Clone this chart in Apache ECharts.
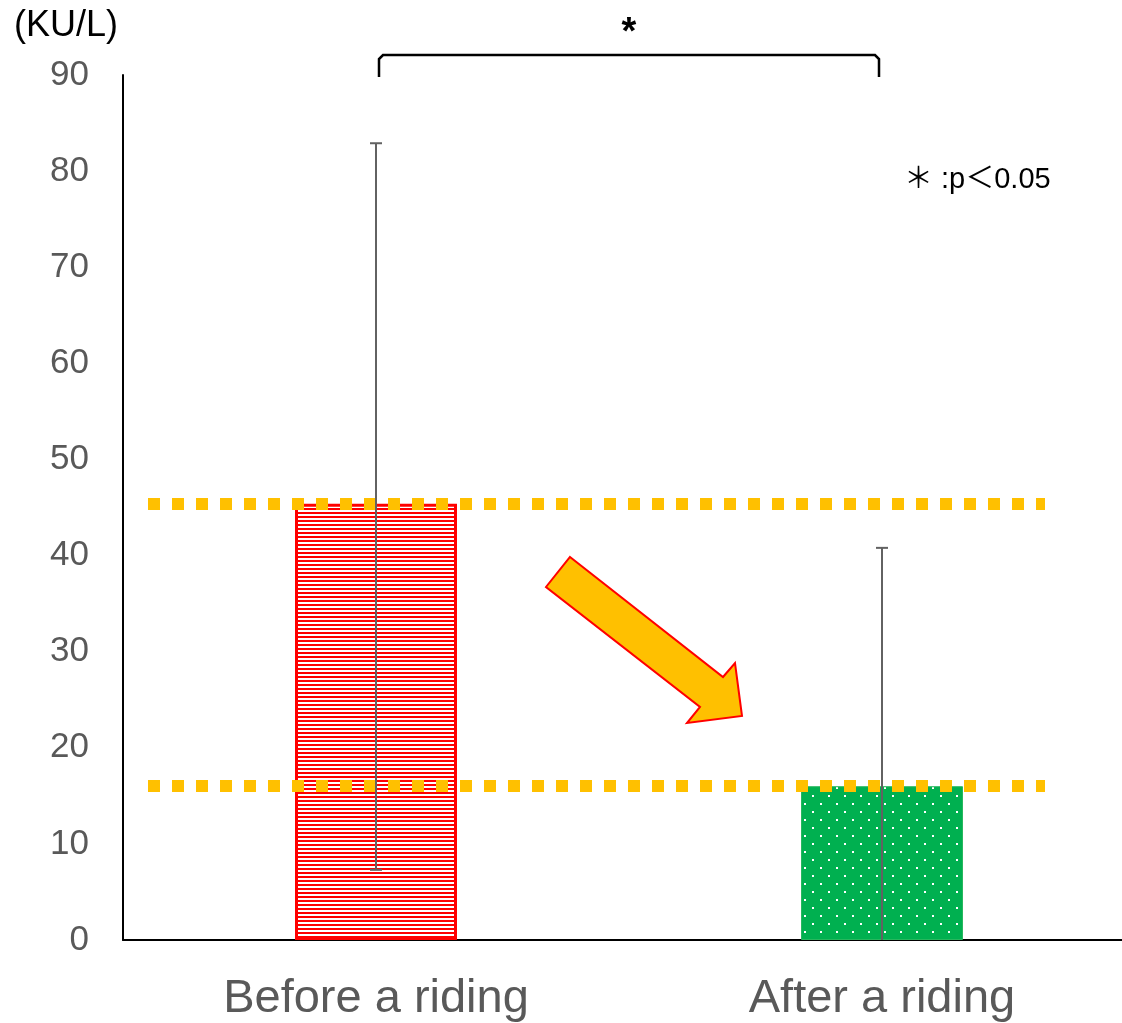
<!DOCTYPE html>
<html>
<head>
<meta charset="utf-8">
<style>
  html, body { margin: 0; padding: 0; background: #fff; overflow: hidden; }
  #chart { width: 1135px; height: 1023px; }
</style>
<script src="https://cdn.jsdelivr.net/npm/echarts@6/dist/echarts.min.js"></script>
</head>
<body>
<div id="chart"></div>
<script>
// Serum level before and after a riding session (mean with SD)
const categories = ['Before a riding', 'After a riding'];
const meanValues = [45.4, 16.0];
const errUpper = [82.9, 40.8];
const errLower = [7.3, -8.8];
const yTicks = { min: 0, max: 90, interval: 10 };
const unitLabel = '(KU/L)';
const sigMark = '*';
const sigNote = '＊ :p＜0.05';

const FONT = '"Liberation Sans", Arial, "Noto Sans CJK JP", sans-serif';

// Horizontal red hatching for the first bar
function hatchPattern() {
  const c = document.createElement('canvas');
  c.width = 8; c.height = 4;
  const g = c.getContext('2d');
  g.fillStyle = '#ffffff';
  g.fillRect(0, 0, 8, 4);
  g.fillStyle = '#ff0000';
  g.fillRect(0, 0, 8, 2);
  return c;
}
// Green fill with a staggered grid of white dots for the second bar
function dotPattern() {
  const c = document.createElement('canvas');
  c.width = 16; c.height = 16;
  const g = c.getContext('2d');
  g.fillStyle = '#00b050';
  g.fillRect(0, 0, 16, 16);
  g.fillStyle = '#ffffff';
  g.fillRect(4, 3, 2, 2);
  g.fillRect(12, 11, 2, 2);
  return c;
}

const chart = echarts.init(document.getElementById('chart'), null, { renderer: 'canvas' });

const barData = meanValues.map((v, i) => ({
  value: v,
  itemStyle: i === 0
    ? { color: { image: hatchPattern(), repeat: 'repeat' }, borderColor: '#ff0000', borderWidth: 3 }
    : { color: { image: dotPattern(), repeat: 'repeat' }, borderColor: '#27b85e', borderWidth: 1 }
}));

const dashStyle = { color: '#ffc000', width: 12, type: [12, 12], cap: 'butt' };
function refLine(v) {
  return [
    { xAxis: 0, yAxis: v, x: 148 },
    { xAxis: 1, yAxis: v, x: 1045 }
  ];
}

chart.setOption({
  animation: false,
  backgroundColor: '#ffffff',
  grid: { left: 123, top: 75, right: 0, bottom: 83, containLabel: false },
  xAxis: {
    type: 'category',
    data: categories,
    axisLine: { show: true, lineStyle: { color: '#000', width: 2 } },
    axisTick: { show: false },
    axisLabel: { color: '#595959', fontSize: 47, fontFamily: FONT, margin: 36 }
  },
  yAxis: {
    type: 'value',
    min: yTicks.min, max: yTicks.max, interval: yTicks.interval,
    axisLine: { show: true, lineStyle: { color: '#000', width: 2 } },
    axisTick: { show: false },
    splitLine: { show: false },
    axisLabel: { color: '#595959', fontSize: 35, fontFamily: FONT, margin: 34 }
  },
  series: [
    {
      type: 'bar',
      data: barData,
      barWidth: 162,
      z: 2,
      markLine: {
        silent: true,
        symbol: 'none',
        label: { show: false },
        lineStyle: dashStyle,
        z: 4,
        data: [refLine(meanValues[0]), refLine(meanValues[1])]
      }
    },
    {
      type: 'custom',
      z: 5,
      data: categories.map((c, i) => [i, errLower[i], errUpper[i]]),
      renderItem: function (params, api) {
        const lowVal = Math.max(api.value(1), yTicks.min);
        const top = api.coord([api.value(0), api.value(2)]);
        const bot = api.coord([api.value(0), lowVal]);
        const x = top[0];
        const half = 6;
        const st = { stroke: '#626262', lineWidth: 2 };
        const children = [
          { type: 'line', shape: { x1: x, y1: top[1], x2: x, y2: bot[1] }, style: st },
          { type: 'line', shape: { x1: x - half, y1: top[1], x2: x + half, y2: top[1] }, style: st }
        ];
        if (api.value(1) > yTicks.min) {
          children.push({ type: 'line', shape: { x1: x - half, y1: bot[1], x2: x + half, y2: bot[1] }, style: st });
        }
        return { type: 'group', children: children };
      }
    }
  ]
});

// Annotations: unit label, significance bracket, note and trend arrow
const cx0 = chart.convertToPixel({ xAxisIndex: 0 }, categories[0]);
const cx1 = chart.convertToPixel({ xAxisIndex: 0 }, categories[1]);
const bx0 = cx0 + 3, bx1 = cx1 - 3;

chart.setOption({
  graphic: [
    {
      type: 'text', left: 14, top: 8,
      style: { text: unitLabel, fontSize: 36, fontFamily: FONT, fill: '#000' }
    },
    {
      type: 'polyline',
      shape: { points: [[bx0, 77], [bx0, 59], [bx0 + 4, 55], [bx1 - 4, 55], [bx1, 59], [bx1, 77]] },
      style: { stroke: '#000', lineWidth: 2.5, fill: null }
    },
    {
      type: 'text', x: (bx0 + bx1) / 2, y: 34,
      style: { text: sigMark, fontSize: 38, fontWeight: 'bold', fontFamily: FONT, fill: '#000', align: 'center', verticalAlign: 'middle' }
    },
    {
      type: 'text', x: 904, y: 180,
      style: { text: sigNote, fontSize: 29, fontFamily: FONT, fill: '#000', verticalAlign: 'middle' }
    },
    {
      type: 'polygon',
      shape: { points: [[570, 557], [723, 677], [735, 663], [742, 716], [687, 723], [700, 707], [546, 587]] },
      style: { fill: '#ffc000', stroke: '#ff0000', lineWidth: 2, lineJoin: 'miter' }
    }
  ]
});
</script>
</body>
</html>
